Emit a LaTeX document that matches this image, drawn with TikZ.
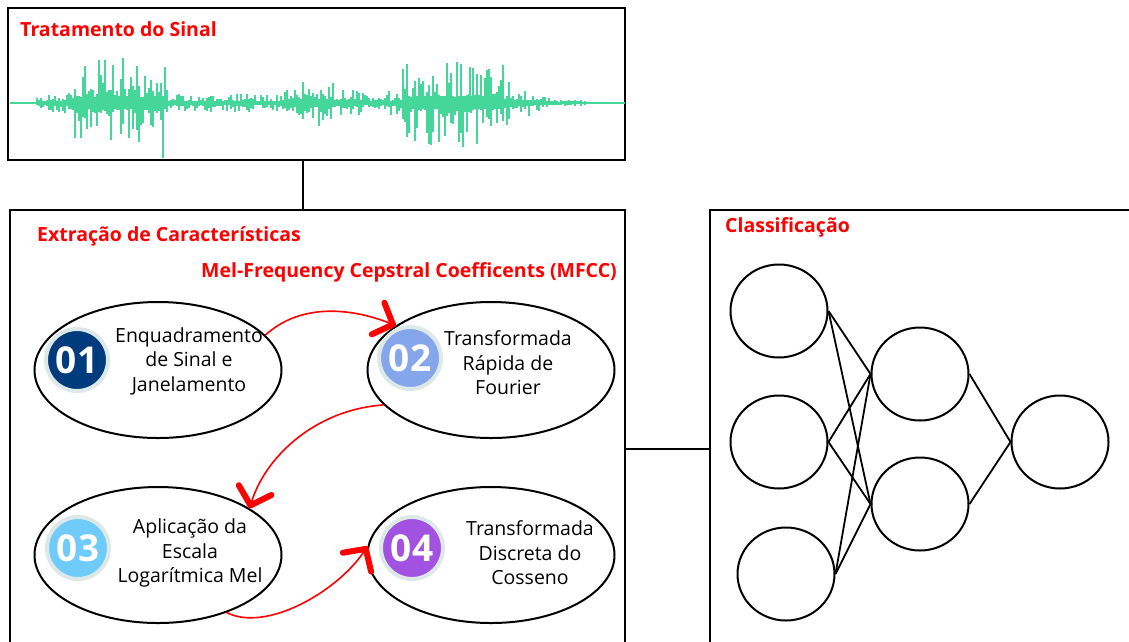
\documentclass[tikz,border=0pt]{standalone}
\usepackage{fontspec}
\setmainfont{Open Sans}
\usetikzlibrary{shapes.geometric,arrows.meta,calc}
\definecolor{titred}{HTML}{FF0000}
\definecolor{wavec}{HTML}{45D69A}
\definecolor{bOne}{HTML}{003B7E}
\definecolor{bTwo}{HTML}{86A6EC}
\definecolor{bThree}{HTML}{6FCBF9}
\definecolor{bFour}{HTML}{A152E0}
\definecolor{ringc}{HTML}{DDE9E9}
\begin{document}
\begin{tikzpicture}[x=1pt,y=-1pt,
  box/.style={draw=black,line width=2pt,rectangle,inner sep=0pt},
  title/.style={text=titred,font=\fontsize{19.5}{22}\selectfont\bfseries,inner sep=0pt},
  stage/.style={draw=black,line width=2pt,ellipse,minimum width=247pt,minimum height=136pt,inner sep=0pt},
  badge/.style={circle,minimum size=62pt,inner sep=0pt,draw=ringc,line width=4pt,text=white,font=\fontsize{37}{38}\selectfont\bfseries},
  stext/.style={align=center,font=\fontsize{19.5}{24.5}\selectfont,inner sep=0pt},
  neuron/.style={draw=black,line width=2pt,ellipse,minimum width=97pt,minimum height=93pt,inner sep=0pt},
  link/.style={black,line width=1.8pt},
  flow/.style={draw=red,line width=1.6pt,-{Straight Barb[length=16pt,width=34pt,line width=6pt 0 1,round]}},
  wave/.style={wavec,line width=1.7pt}]
\useasboundingbox (0,0) rectangle (1129,641);
\clip (0,0) rectangle (1129,641);
\fill[white] (0,0) rectangle (1129,641);

% boxes
\node[box,minimum width=617pt,minimum height=152pt] (sig) at (316.5,84) {};
\node[box,minimum width=615pt,minimum height=478pt] (ext) at (317.5,449) {};
\node[box,minimum width=425pt,minimum height=478pt] (cls) at (922.5,449) {};
\draw[line width=2pt] ([xshift=-13.5pt]sig.south) -- ([xshift=-13.5pt]sig.south |- ext.north);
\draw[line width=2pt] (ext.east) -- (cls.west);

% titles
\node[title,anchor=base west] (t-sig) at (20,36) {Tratamento do Sinal};
\node[title,anchor=base west] (t-ext) at (37,241) {Extração de Características};
\node[title,anchor=base east] (t-mfcc) at (617,277) {Mel-Frequency Cepstral Coefficents (MFCC)};
\node[title,anchor=base west] (t-cls) at (725,232) {Classificação};

% waveform
\draw[wave] (10,103) -- (625,103);
\pgfmathsetseed{31}
\foreach \x in {37,39,...,585}{
  \pgfmathsetmacro\env{10*(\x<74)+44*(\x>=74)*(\x<168)+8*(\x>=168)*(\x<285)+22*(\x>=285)*(\x<335)+12*(\x>=335)*(\x<402)+42*(\x>=402)*(\x<505)+(\x>=505)*max(3,22-(\x-505)*0.4)}
  \pgfmathsetmacro\up{\env*(0.12+0.88*rnd^2)+1}
  \pgfmathsetmacro\dn{\env*(0.12+0.88*rnd^2)+1}
  \draw[wave] (\x,103-\up) -- (\x,103+\dn);
}
\draw[wave] (163,100) -- (163,158);
\draw[wave] (123,103) -- (123,58);
\draw[wave] (463,103) -- (463,147);
\draw[wave] (470,103) -- (470,67);

% MFCC stages
\node[stage] (e1) at (158,370) {};
\node[stage] (e2) at (491,370) {};
\node[stage] (e3) at (158,555) {};
\node[stage] (e4) at (491,555) {};

\node[badge,fill=bOne] (b1) at (77,360) {01};
\node[badge,fill=bTwo] (b2) at (410,358) {02};
\node[badge,fill=bThree] (b3) at (78,548) {03};
\node[badge,fill=bFour] (b4) at (412,548) {04};

\node[stext] (s1) at (189,361) {Enquadramento\\de Sinal e\\Janelamento};
\node[stext] (s2) at (508,363) {Transformada\\Rápida de\\Fourier};
\node[stext] (s3) at (190,553) {Aplicação da\\Escala\\Logarítmica Mel};
\node[stext] (s4) at (530,553) {Transformada\\Discreta do\\Cosseno};

\draw[flow] (e1.18) .. controls +(35,-32) and +(-45,-18) .. (e2.155);
\draw[flow] (e2.198) .. controls +(-70,5) and +(15,-50) .. (e3.27);
\draw[flow] (e3.-40) .. controls +(40,20) and +(-30,45) .. (e4.176);

% neural network
\node[neuron] (n1) at (779,311) {};
\node[neuron] (n2) at (779,442) {};
\node[neuron] (n3) at (786,574) {};
\node[neuron] (h1) at (920,374) {};
\node[neuron] (h2) at (920,504) {};
\node[neuron] (o1) at (1060,442) {};
\foreach \i in {n1,n2,n3}{
  \draw[link] (\i.east) -- (h1.west);
  \draw[link] (\i.east) -- (h2.west);
}
\draw[link] (h1.east) -- (o1.west);
\draw[link] (h2.east) -- (o1.west);
\end{tikzpicture}
\end{document}
